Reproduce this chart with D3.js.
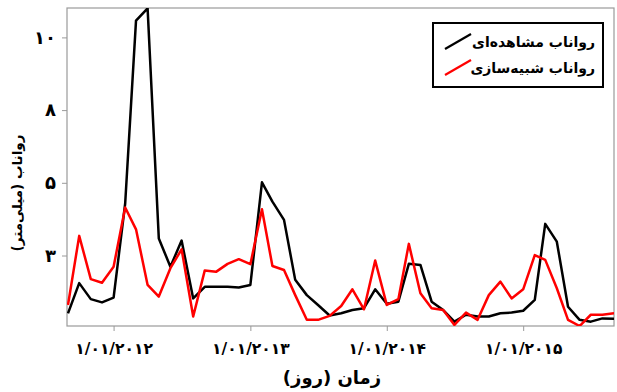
<!DOCTYPE html>
<html><head><meta charset="utf-8">
<script src="https://cdn.jsdelivr.net/npm/d3@7"></script>
<style>body{margin:0;background:#fff}svg{display:block}text{font-family:"DejaVu Sans",sans-serif;font-weight:bold}</style>
</head><body><svg id="c" width="617" height="392"></svg>
<script>
// monthly values, Sep 2011 .. Sep 2015
const startMonth = [2011, 8];
const observed = [1.41,2.24,1.80,1.71,1.84,4.43,10.46,10.80,3.47,2.69,3.41,1.82,2.14,2.14,2.14,2.12,2.19,5.02,4.48,3.98,2.33,1.91,1.64,1.35,1.41,1.50,1.55,2.07,1.67,1.73,2.77,2.74,1.73,1.50,1.18,1.37,1.32,1.32,1.41,1.43,1.48,1.78,3.87,3.38,1.59,1.23,1.18,1.27,1.26];
const simulated = [1.64,3.54,2.35,2.25,2.69,4.32,3.72,2.19,1.87,2.65,3.17,1.32,2.59,2.55,2.77,2.90,2.76,4.27,2.71,2.60,1.91,1.23,1.23,1.34,1.61,2.07,1.52,2.86,1.64,1.80,3.32,1.96,1.55,1.50,1.09,1.43,1.23,1.91,2.28,1.82,2.07,3.01,2.88,2.10,1.23,1.06,1.37,1.37,1.41];
const yTicks = [3,5,8,10];
const xTickDates = ["2012-01-01","2013-01-01","2014-01-01","2015-01-01"];
const xTickLabels = ["۱/۰۱/۲۰۱۲","۱/۰۱/۲۰۱۳","۱/۰۱/۲۰۱۴","۱/۰۱/۲۰۱۵"];
const seriesNames = ["رواناب مشاهده‌ای","رواناب شبیه‌سازی"];
const seriesColors = ["#000000","#ff0000"];
const yLabel = "رواناب (میلی‌متر)";
const xLabel = "زمان (روز)";

const svg = d3.select("#c");
const L = 67, R = 614, T = 8, B = 326;
const dates = observed.map((_, i) => new Date(startMonth[0], startMonth[1] + i, 1));
const x = d3.scaleTime().domain([dates[0], dates[dates.length-1]]).range([L+1, R]);
// axis ticks are equally spaced though labels are not
const step = 72.7;
const y3 = B - 70.5;
const y = d3.scaleLinear().domain(yTicks).range(yTicks.map((_, i) => y3 - i*step));

// frame
svg.append("rect").attr("x", L).attr("y", T).attr("width", R-L).attr("height", B-T)
  .attr("fill", "none").attr("stroke", "#9a9a9a").attr("stroke-width", 1.2);

// y axis
const gy = svg.append("g").attr("transform", `translate(${L},0)`)
  .call(d3.axisLeft(y).tickValues(yTicks).tickSize(5).tickPadding(6)
    .tickFormat(d => d.toLocaleString("fa-IR")));
gy.select(".domain").remove();
gy.selectAll("line").attr("stroke", "#9a9a9a");
gy.selectAll("text").attr("font-size", 18).attr("fill", "#000");

// x axis
const gx = svg.append("g").attr("transform", `translate(0,${B})`)
  .call(d3.axisBottom(x).tickValues(xTickDates.map(d => new Date(d+"T00:00:00"))).tickSize(5).tickPadding(12)
    .tickFormat((d, i) => xTickLabels[i]));
gx.select(".domain").remove();
gx.selectAll("line").attr("stroke", "#9a9a9a");
gx.selectAll("text").attr("font-size", 15.5).attr("fill", "#000");

// lines
const clip = svg.append("clipPath").attr("id", "cl").append("rect")
  .attr("x", L).attr("y", T).attr("width", R-L).attr("height", B-T);
const line = d3.line().x((d, i) => x(dates[i])).y(d => y(d));
[observed, simulated].forEach((s, k) => {
  svg.append("path").datum(s).attr("d", line).attr("fill", "none")
    .attr("stroke", seriesColors[k]).attr("stroke-width", 2.5)
    .attr("stroke-linejoin", "round").attr("clip-path", "url(#cl)");
});

// legend
const lg = svg.append("g");
lg.append("rect").attr("x", 433).attr("y", 23).attr("width", 170).attr("height", 64)
  .attr("fill", "#fff").attr("stroke", "#000").attr("stroke-width", 2);
seriesNames.forEach((n, k) => {
  const cy = 42 + k*26;
  lg.append("line").attr("x1", 445).attr("y1", cy+7).attr("x2", 471).attr("y2", cy-8)
    .attr("stroke", seriesColors[k]).attr("stroke-width", 2.2);
  lg.append("text").attr("x", 595).attr("y", cy).attr("dy", "0.35em")
    .attr("font-size", 14).attr("fill", "#000").style("direction", "rtl")
    .attr("text-anchor", "start").text(n);
});

// axis titles
svg.append("text").attr("transform", `translate(22,${(T+B)/2+26}) rotate(-90)`)
  .attr("text-anchor", "middle").attr("font-size", 13.5).attr("fill", "#000").text(yLabel);
svg.append("text").attr("x", 332).attr("y", 378).attr("dy", "0.35em")
  .attr("text-anchor", "middle").attr("font-size", 18).attr("fill", "#000").text(xLabel);
</script></body></html>
